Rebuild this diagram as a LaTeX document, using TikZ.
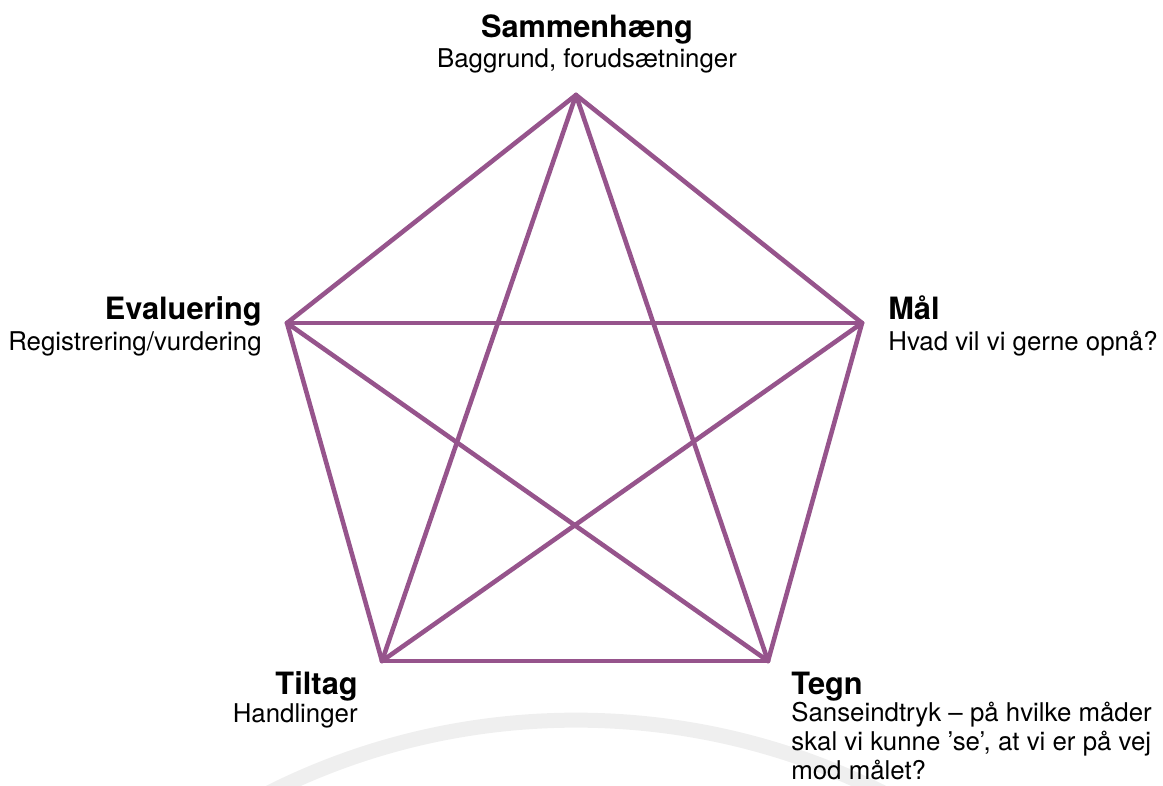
\documentclass[tikz,border=0pt]{standalone}
\usepackage{fontspec}
\setmainfont{TeX Gyre Heros}
\definecolor{starpurple}{RGB}{150,84,140}
\definecolor{arcgrey}{RGB}{239,239,239}
\newcommand{\headfont}{\fontsize{17.5}{20}\bfseries\selectfont}
\newcommand{\subfont}{\fontsize{14.7}{16.4}\selectfont}

\begin{document}
\begin{tikzpicture}[x=0.02cm,y=-0.02cm,
  head/.style={font=\headfont, inner sep=0pt},
  sub/.style={font=\subfont, inner sep=0pt},
  edge/.style={starpurple, line width=2.6pt, line join=round, line cap=round}]
\useasboundingbox (0,0) rectangle (1163,785);
\begin{scope}
\clip (0,0) rectangle (1163,785);
\draw [arcgrey, line width=0.3cm] (576,1404) circle [radius=13.68cm];
\end{scope}

\coordinate (samm) at (576,95);
\coordinate (maal) at (862,323);
\coordinate (tegn) at (768,661);
\coordinate (tilt) at (382,661);
\coordinate (eval) at (287,323);

% pentagon and star
\foreach \a/\b in {samm/maal, maal/tegn, tegn/tilt, tilt/eval, eval/samm,
                   samm/tegn, samm/tilt, maal/tilt, maal/eval, eval/tegn}
  \draw [edge] (\a) -- (\b);

\node (sammhead) [head, anchor=base] at (587,37) {Sammenhæng};
\node (sammsub) [sub, anchor=base] at (587,67) {Baggrund, forudsætninger};
\node (maalhead) [head, anchor=base west] at (888,319) {Mål};
\node (maalsub) [sub, anchor=base west] at (888,350) {Hvad vil vi gerne opnå?};
\node (evalhead) [head, anchor=base east] at (262,319) {Evaluering};
\node (evalsub) [sub, anchor=base east] at (262,350) {Registrering/vurdering};
\node (tilthead) [head, anchor=base east] at (358,694) {Tiltag};
\node (tiltsub) [sub, anchor=base east] at (358,722) {Handlinger};
\node (tegnhead) [head, anchor=base west] at (791,694) {Tegn};
% base of a multi-line node sits on its last line
\node (tegnsub) [sub, anchor=base west, align=left] at (791,779)
  {Sanseindtryk – på hvilke måder\\skal vi kunne ’se’, at vi er på vej\\mod målet?};
\end{tikzpicture}
\end{document}
